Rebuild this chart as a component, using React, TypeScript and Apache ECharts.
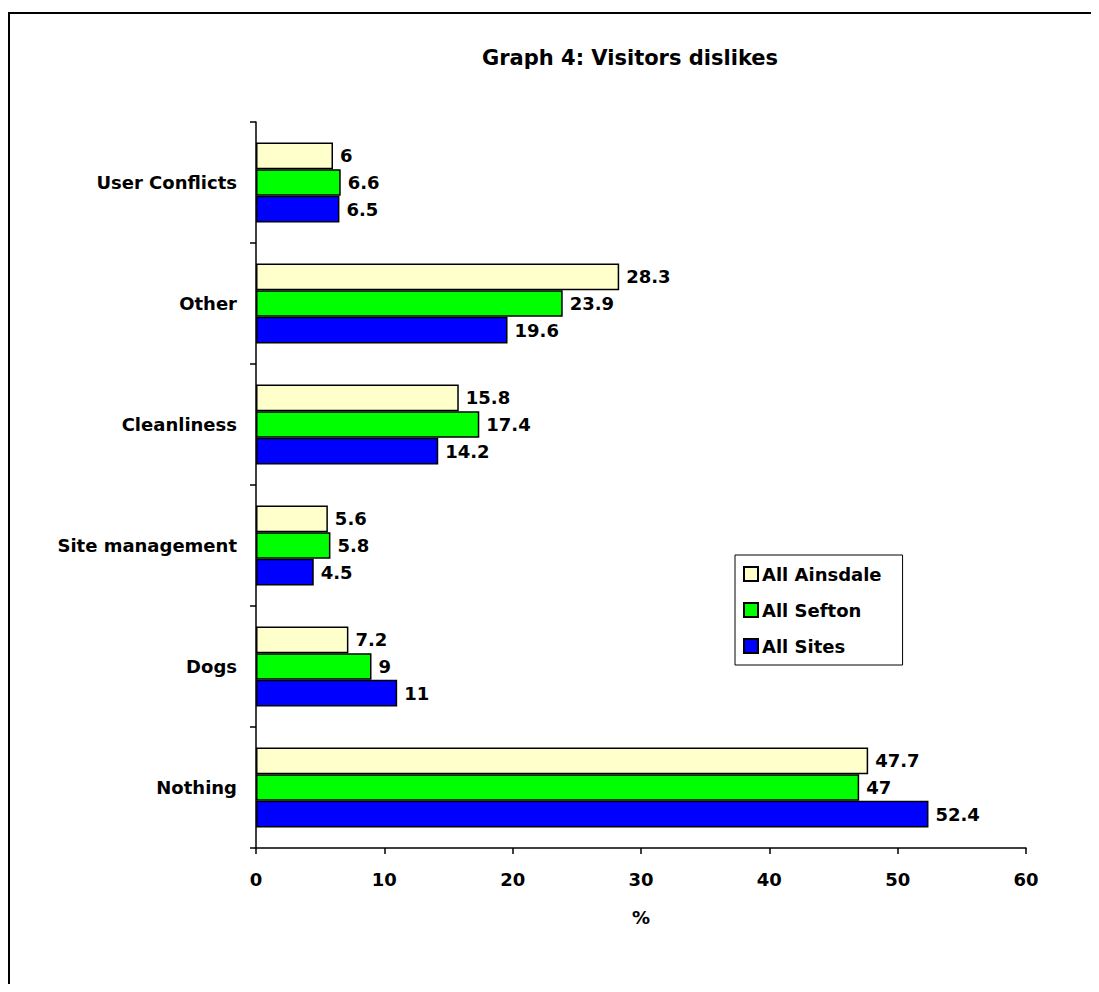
import React, { useEffect, useRef } from "react";
import * as echarts from "echarts";

const categories = ["Nothing", "Dogs", "Site management", "Cleanliness", "Other", "User Conflicts"];
const seriesNames = ["All Ainsdale", "All Sefton", "All Sites"];
const ainsdale = [47.7, 7.2, 5.6, 15.8, 28.3, 6];
const sefton = [47, 9, 5.8, 17.4, 23.9, 6.6];
const sites = [52.4, 11, 4.5, 14.2, 19.6, 6.5];
const colors = ["#FFFFCC", "#00FF00", "#0000FF"];
const FONT = "'DejaVu Sans', 'Liberation Sans', Arial, sans-serif";

export default function App() {
  const ref = useRef<HTMLDivElement>(null);
  useEffect(() => {
    if (!ref.current) return;
    const chart = echarts.init(ref.current, null, { renderer: "svg" });
    const data = [ainsdale, sefton, sites];
    chart.setOption({
      animation: false,
      backgroundColor: "#ffffff",
      textStyle: { fontFamily: FONT },
      title: {
        text: "Graph 4: Visitors dislikes",
        left: 617,
        top: 34,
        textAlign: "center",
        textStyle: { fontFamily: FONT, fontWeight: "bold", fontSize: 21, color: "#000" },
      },
      graphic: [
        {
          type: "rect",
          shape: { x: 1, y: 5, width: 1200, height: 1200 },
          style: { fill: "none", stroke: "#000", lineWidth: 2 },
          silent: true,
        },
      ],
      legend: {
        orient: "vertical",
        left: 727,
        top: 547,
        data: seriesNames,
        icon: "rect",
        itemWidth: 14,
        itemHeight: 14,
        itemGap: 18,
        padding: [10, 21, 10, 8],
        borderColor: "#000",
        borderWidth: 1,
        backgroundColor: "#fff",
        textStyle: { fontFamily: FONT, fontWeight: "bold", fontSize: 18, color: "#000", padding: [0, 0, 0, -1] },
      },
      grid: { left: 248, right: 65, top: 114, bottom: 136, containLabel: false },
      xAxis: {
        type: "value",
        min: 0,
        max: 60,
        interval: 10,
        name: "%",
        nameLocation: "middle",
        nameGap: 60,
        nameTextStyle: { fontFamily: FONT, fontWeight: "bold", fontSize: 18, color: "#000" },
        axisLine: { show: true, lineStyle: { color: "#000", width: 1.5 } },
        axisTick: { show: true, length: 6, lineStyle: { color: "#000", width: 1.5 } },
        axisLabel: { fontFamily: FONT, fontWeight: "bold", fontSize: 18, color: "#000", margin: 22 },
        splitLine: { show: false },
      },
      yAxis: {
        type: "category",
        data: categories,
        axisLine: { show: true, lineStyle: { color: "#000", width: 1.5 } },
        axisTick: { show: true, length: 6, lineStyle: { color: "#000", width: 1.5 } },
        axisLabel: { fontFamily: FONT, fontWeight: "bold", fontSize: 18, color: "#000", margin: 19 },
      },
      series: seriesNames.map((name, i) => ({
        name,
        type: "bar",
        data: data[i],
        barCategoryGap: "34%",
        barGap: "0%",
        itemStyle: { color: colors[i], borderColor: "#000", borderWidth: 1.5 },
        label: {
          show: true,
          position: "right",
          distance: 7,
          fontFamily: FONT,
          fontWeight: "bold",
          fontSize: 18,
          color: "#000",
        },
      })),
    });
    return () => chart.dispose();
  }, []);
  return <div ref={ref} style={{ width: 1083, height: 976 }} />;
}
